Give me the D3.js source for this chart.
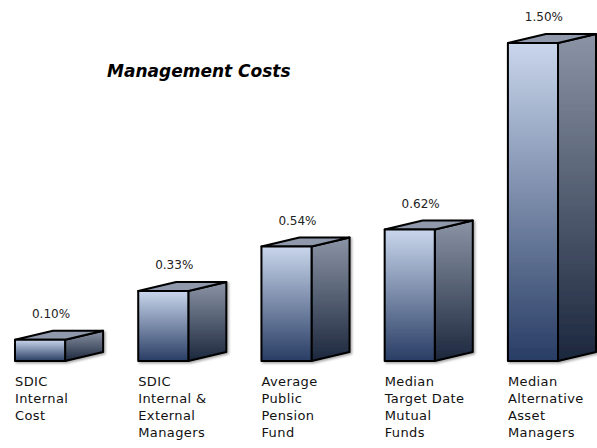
<!DOCTYPE html>
<html>
<head>
<meta charset="utf-8">
<script src="https://cdn.jsdelivr.net/npm/d3@7"></script>
<style>
  body { margin: 0; background: #fff; }
  svg { display: block; }
  text { font-family: "DejaVu Sans", "Open Sans", sans-serif; fill: #111; }
</style>
</head>
<body>
<svg class="chart"></svg>
<script>
var width = 597, height = 448;

var categories = ["SDIC Internal Cost", "SDIC Internal & External Managers", "Average Public Pension Fund",
                  "Median Target Date Mutual Funds", "Median Alternative Asset Managers"];
var labelLines = [["SDIC", "Internal", "Cost"],
                  ["SDIC", "Internal &", "External", "Managers"],
                  ["Average", "Public", "Pension", "Fund"],
                  ["Median", "Target Date", "Mutual", "Funds"],
                  ["Median", "Alternative", "Asset", "Managers"]];
var values = [0.10, 0.33, 0.54, 0.62, 1.50];
var valueLabels = ["0.10%", "0.33%", "0.54%", "0.62%", "1.50%"];

var depthX = 38, depthY = -9;

var x = d3.scaleBand()
    .domain(categories)
    .range([15, 558])
    .paddingInner(73 / 123)
    .paddingOuter(0);

var y = d3.scaleLinear()
    .domain([0, 1.5])
    .range([361, 43]);

var svg = d3.select(".chart")
    .attr("width", width)
    .attr("height", height);

var defs = svg.append("defs");

var gFront = defs.append("linearGradient").attr("id", "gFront")
    .attr("x1", 0).attr("y1", 0).attr("x2", 0).attr("y2", 1);
gFront.append("stop").attr("offset", "0%").attr("stop-color", "#c9d6ec");
gFront.append("stop").attr("offset", "100%").attr("stop-color", "#293d64");

var gSide = defs.append("linearGradient").attr("id", "gSide")
    .attr("x1", 0).attr("y1", 0).attr("x2", 0).attr("y2", 1);
gSide.append("stop").attr("offset", "0%").attr("stop-color", "#8b94a5");
gSide.append("stop").attr("offset", "100%").attr("stop-color", "#1c273d");

var shadow = defs.append("filter").attr("id", "shadow")
    .attr("x", "-10%").attr("y", "-10%").attr("width", "130%").attr("height", "130%");
shadow.append("feDropShadow").attr("dx", 1.5).attr("dy", 1.5).attr("stdDeviation", 1)
    .attr("flood-color", "#000").attr("flood-opacity", 0.35);

var data = categories.map(function(c, i) {
  return {cat: c, value: values[i], label: valueLabels[i], lines: labelLines[i]};
});

var bars = svg.selectAll(".bar")
    .data(data)
  .enter().append("g")
    .attr("class", "bar")
    .attr("filter", "url(#shadow)");

// side face
bars.append("path")
    .attr("d", function(d) {
      var x0 = x(d.cat) + x.bandwidth(), yt = y(d.value), yb = y(0);
      return "M" + x0 + "," + yt + "L" + (x0 + depthX) + "," + (yt + depthY) +
             "L" + (x0 + depthX) + "," + (yb + depthY) + "L" + x0 + "," + yb + "Z";
    })
    .attr("fill", "url(#gSide)")
    .attr("stroke", "#000")
    .attr("stroke-width", 2)
    .attr("stroke-linejoin", "round");

// top face
bars.append("path")
    .attr("d", function(d) {
      var x0 = x(d.cat), x1 = x0 + x.bandwidth(), yt = y(d.value);
      return "M" + x0 + "," + yt + "L" + (x0 + depthX) + "," + (yt + depthY) +
             "L" + (x1 + depthX) + "," + (yt + depthY) + "L" + x1 + "," + yt + "Z";
    })
    .attr("fill", "#8f99ab")
    .attr("stroke", "#000")
    .attr("stroke-width", 2)
    .attr("stroke-linejoin", "round");

// front face
bars.append("rect")
    .attr("x", function(d) { return x(d.cat); })
    .attr("y", function(d) { return y(d.value); })
    .attr("width", x.bandwidth())
    .attr("height", function(d) { return y(0) - y(d.value); })
    .attr("fill", "url(#gFront)")
    .attr("stroke", "#000")
    .attr("stroke-width", 2)
    .attr("stroke-linejoin", "round");

// value labels
svg.selectAll(".value")
    .data(data)
  .enter().append("text")
    .attr("class", "value")
    .attr("x", function(d) { return x(d.cat) + 36; })
    .attr("y", function(d) { return y(d.value) + depthY - 13; })
    .attr("text-anchor", "middle")
    .style("font-size", "12px")
    .style("fill", "#222")
    .text(function(d) { return d.label; });

// category labels
var cats = svg.selectAll(".cat")
    .data(data)
  .enter().append("text")
    .attr("class", "cat")
    .attr("x", function(d) { return x(d.cat); })
    .attr("y", 386)
    .style("font-size", "13px")
    .style("letter-spacing", "0.4px");

cats.selectAll("tspan")
    .data(function(d) { return d.lines.map(function(l) { return {line: l, x: x(d.cat)}; }); })
  .enter().append("tspan")
    .attr("x", function(t) { return t.x; })
    .attr("dy", function(t, i) { return i === 0 ? 0 : 17; })
    .text(function(t) { return t.line; });

svg.append("text")
    .attr("x", 107)
    .attr("y", 77)
    .style("font-size", "17px")
    .style("font-weight", "bold")
    .style("font-style", "italic")
    .style("fill", "#000")
    .text("Management Costs");
</script>
</body>
</html>
